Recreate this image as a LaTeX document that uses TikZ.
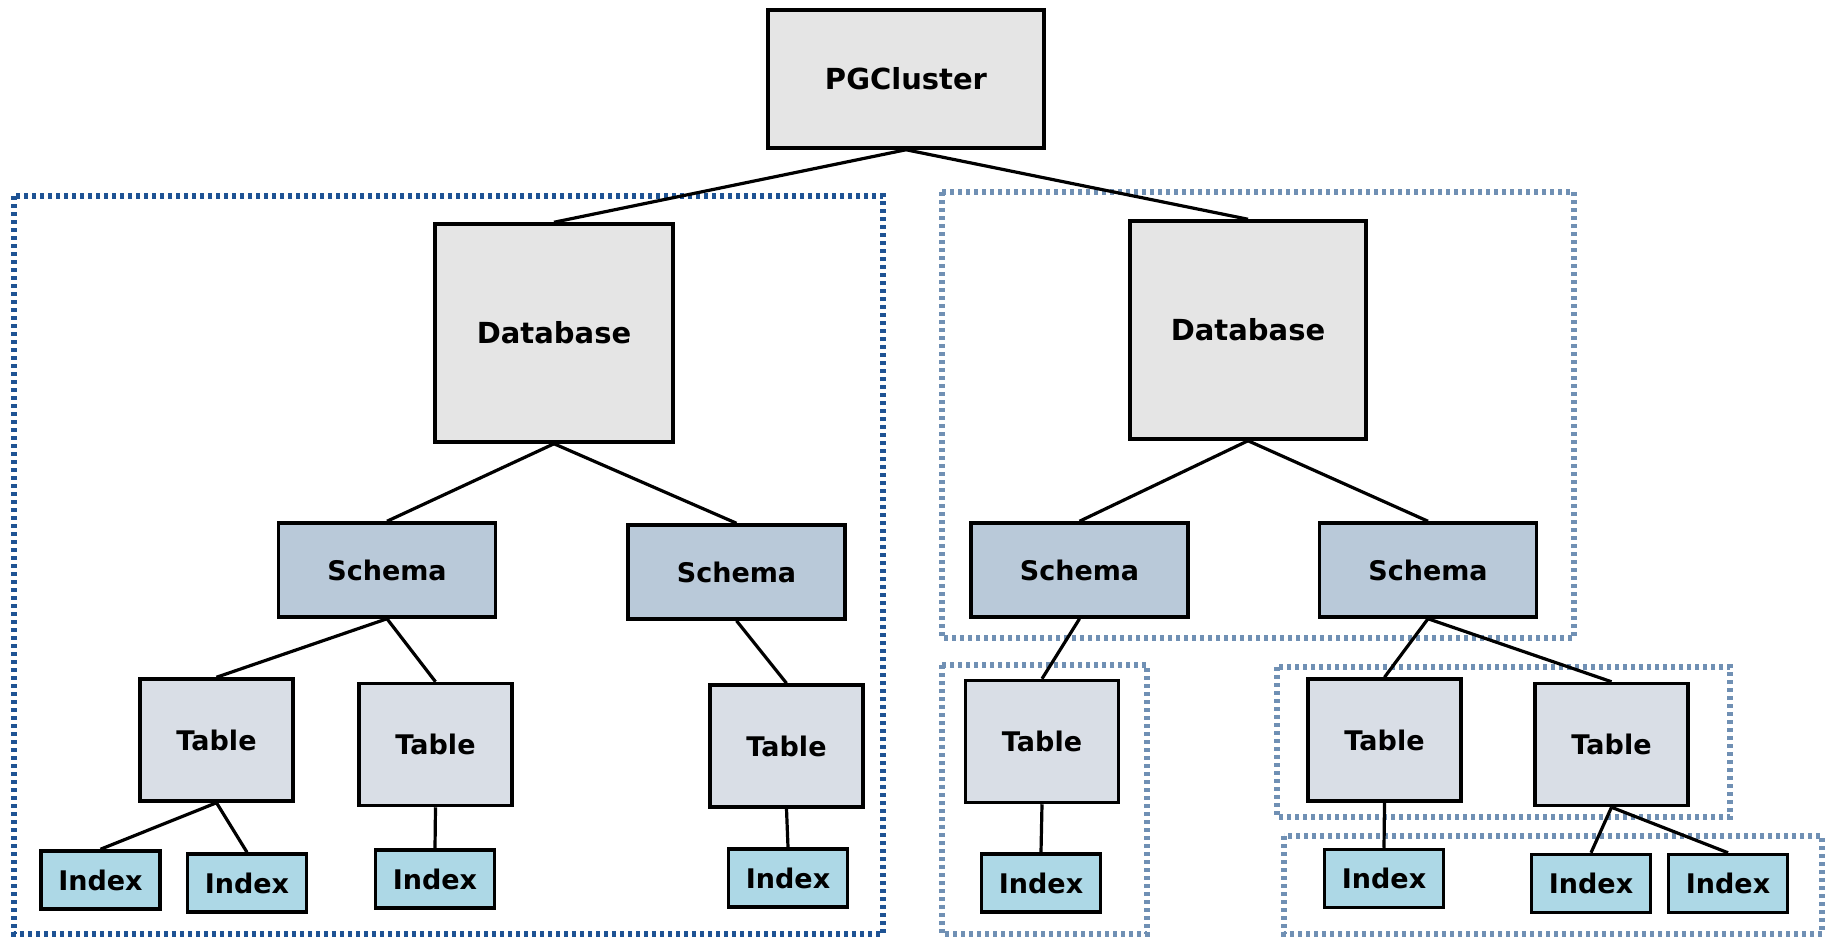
\documentclass[tikz,border=0pt]{standalone}
\usepackage{fontspec}
\setmainfont{DejaVu Sans}
\usetikzlibrary{positioning}
\definecolor{topfill}{HTML}{E5E5E5}
\definecolor{schemafill}{HTML}{B9C9D9}
\definecolor{tablefill}{HTML}{D9DEE6}
\definecolor{indexfill}{HTML}{ADD8E6}
\definecolor{darkgrp}{HTML}{1E5394}
\definecolor{lightgrp}{HTML}{7090B4}

\begin{document}
\begin{tikzpicture}[x=0.5pt,y=-0.5pt,
  box/.style={draw,line width=1.75pt,inner sep=0pt,font=\bfseries\fontsize{13.5}{16}\selectfont},
  topbox/.style={box,fill=topfill,font=\bfseries\fontsize{14.5}{18}\selectfont},
  schemabox/.style={box,fill=schemafill,minimum width=108.5pt,minimum height=47pt},
  tablebox/.style={box,fill=tablefill,minimum width=76.5pt,minimum height=61pt},
  indexbox/.style={box,fill=indexfill,minimum width=59.5pt,minimum height=29pt},
  link/.style={line width=1.6pt},
  grp/.style={draw=lightgrp,line width=2.6pt,dash pattern=on 1.8pt off 2.2pt},
  darkgroup/.style={grp,draw=darkgrp}]
\useasboundingbox (0,0) rectangle (1826,938);
% groups
\draw[darkgroup] (14,196) rectangle (883,934);
\draw[grp] (942,192) rectangle (1574,638);
\draw[grp] (942,665) rectangle (1147,934);
\draw[grp] (1277,667) rectangle (1730,817);
\draw[grp] (1284,836) rectangle (1822,934);
% nodes
\node[topbox,minimum width=138pt,minimum height=69pt] (pg) at (906,79) {PGCluster};
\node[topbox,minimum width=119pt,minimum height=109pt] (dbA) at (554,333) {Database};
\node[topbox,minimum width=118pt,minimum height=109pt] (dbB) at (1248,330) {Database};
\node[schemabox] (scA) at (387,570) {Schema};
\node[schemabox] (scB) at (736.5,572) {Schema};
\node[schemabox] (scC) at (1079.5,570) {Schema};
\node[schemabox] (scD) at (1428,570) {Schema};
\node[tablebox] (tbA) at (216.5,740) {Table};
\node[tablebox] (tbB) at (435.5,744.5) {Table};
\node[tablebox] (tbC) at (786.5,746) {Table};
\node[tablebox] (tbD) at (1042,741.5) {Table};
\node[tablebox] (tbE) at (1384.5,740) {Table};
\node[tablebox] (tbF) at (1611.5,744.5) {Table};
\node[indexbox] (ixA) at (100.5,880) {Index};
\node[indexbox] (ixB) at (247,883) {Index};
\node[indexbox] (ixC) at (435,879) {Index};
\node[indexbox] (ixD) at (788,878) {Index};
\node[indexbox] (ixE) at (1041,883) {Index};
\node[indexbox] (ixF) at (1384,878.5) {Index};
\node[indexbox] (ixG) at (1591,883.5) {Index};
\node[indexbox] (ixH) at (1728,883.5) {Index};
% links
\draw[link] (pg.south)--(dbA.north); \draw[link] (pg.south)--(dbB.north);
\draw[link] (dbA.south)--(scA.north); \draw[link] (dbA.south)--(scB.north);
\draw[link] (dbB.south)--(scC.north); \draw[link] (dbB.south)--(scD.north);
\draw[link] (scA.south)--(tbA.north); \draw[link] (scA.south)--(tbB.north);
\draw[link] (scB.south)--(tbC.north); \draw[link] (scC.south)--(tbD.north);
\draw[link] (scD.south)--(tbE.north); \draw[link] (scD.south)--(tbF.north);
\draw[link] (tbA.south)--(ixA.north); \draw[link] (tbA.south)--(ixB.north);
\draw[link] (tbB.south)--(ixC.north); \draw[link] (tbC.south)--(ixD.north);
\draw[link] (tbD.south)--(ixE.north); \draw[link] (tbE.south)--(ixF.north);
\draw[link] (tbF.south)--(ixG.north); \draw[link] (tbF.south)--(ixH.north);
\end{tikzpicture}
\end{document}
